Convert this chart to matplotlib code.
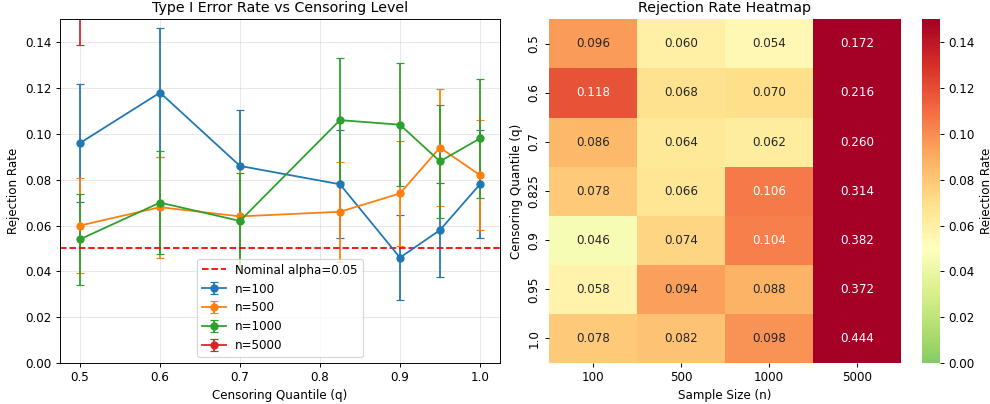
import numpy as np
import pandas as pd
import matplotlib
matplotlib.use('Agg')
import matplotlib.pyplot as plt
import seaborn as sns

# censoring quantiles and sample sizes
quantiles = [0.5, 0.6, 0.7, 0.825, 0.9, 0.95, 1.0]
sample_sizes = [100, 500, 1000, 5000]

# rejection rates per sample size
rate_100 = [0.096, 0.118, 0.086, 0.078, 0.046, 0.058, 0.078]
rate_500 = [0.060, 0.068, 0.064, 0.066, 0.074, 0.094, 0.082]
rate_1000 = [0.054, 0.070, 0.062, 0.106, 0.104, 0.088, 0.098]
rate_5000 = [0.172, 0.216, 0.260, 0.314, 0.382, 0.372, 0.444]

# error bar half widths
err_100 = [0.0258, 0.0283, 0.0246, 0.0235, 0.0184, 0.0205, 0.0235]
err_500 = [0.0208, 0.0221, 0.0215, 0.0218, 0.0229, 0.0256, 0.0240]
err_1000 = [0.0198, 0.0224, 0.0211, 0.0270, 0.0268, 0.0248, 0.0261]
err_5000 = [0.0331, 0.0361, 0.0384, 0.0407, 0.0426, 0.0424, 0.0436]

rates = [rate_100, rate_500, rate_1000, rate_5000]
errs = [err_100, err_500, err_1000, err_5000]

dpi = 85.3
fig = plt.figure(figsize=(990 / dpi, 404 / dpi))
ax1 = fig.add_axes([0.0606, 0.1015, 0.4444, 0.8507])
ax2 = fig.add_axes([0.5545, 0.1015, 0.3556, 0.8507])
cax = fig.add_axes([0.9313, 0.1015, 0.0182, 0.8507])

for n, r, e in zip(sample_sizes, rates, errs):
    ax1.errorbar(quantiles, r, yerr=e, marker='o', capsize=3, label='n=%d' % n)
ax1.axhline(0.05, color='red', linestyle='--', label='Nominal alpha=0.05')
ax1.set_ylim(0, 0.15)
ax1.set_xlabel('Censoring Quantile (q)')
ax1.set_ylabel('Rejection Rate')
ax1.set_title('Type I Error Rate vs Censoring Level')
ax1.grid(True, alpha=0.3)
ax1.legend(loc='lower center')

df = pd.DataFrame(np.array(rates).T, index=quantiles, columns=sample_sizes)
sns.heatmap(df, annot=True, fmt='.3f', cmap='RdYlGn_r', center=0.05,
            vmin=0, vmax=0.15, ax=ax2, cbar_ax=cax,
            cbar_kws={'label': 'Rejection Rate'})
ax2.set_xlabel('Sample Size (n)')
ax2.set_ylabel('Censoring Quantile (q)')
ax2.set_title('Rejection Rate Heatmap')

plt.savefig('out.png', dpi=dpi)
